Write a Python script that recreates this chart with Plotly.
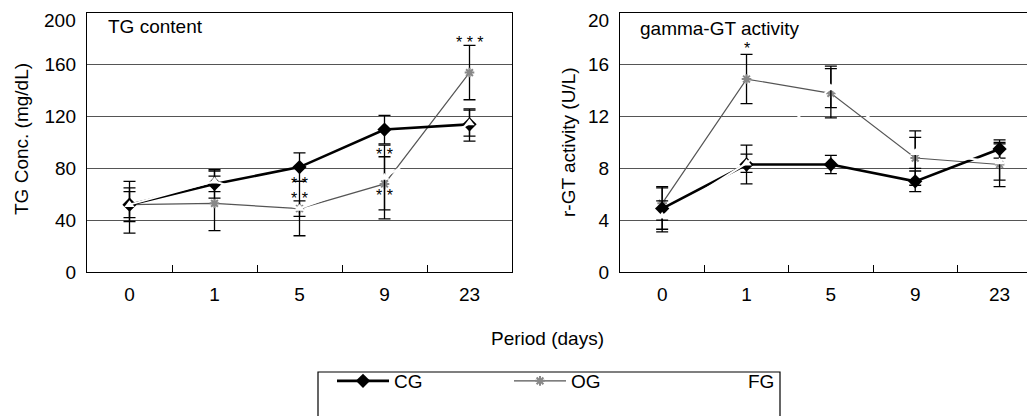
import plotly.graph_objects as go

days = ["0", "1", "5", "9", "23"]

# TG content (mg/dL)
tg_ticks = [0, 40, 80, 120, 160, 200]
tg_cg = [52, 68, 81, 110, 114]
tg_cg_up = [10, 11, 11, 11, 12]
tg_cg_dn = [10, 11, 11, 11, 13]
tg_og = [52, 53, 49, 68, 154]
tg_og_up = [18, 21, 21, 21, 21]
tg_og_dn = [22, 21, 21, 27, 21]
tg_fg = [52, 70, 49, 73, 115]
tg_fg_up = [13, 8, 6, 25, 10]
tg_fg_dn = [13, 8, 6, 25, 10]

# gamma-GT activity (U/L)
gt_ticks = [0, 4, 8, 12, 16, 20]
gt_cg = [4.9, 8.3, 8.3, 7.0, 9.5]
gt_cg_up = [1.6, 1.5, 0.7, 0.8, 0.7]
gt_cg_dn = [1.6, 1.5, 0.7, 0.8, 0.7]
gt_og = [5.3, 14.9, 13.8, 8.8, 8.3]
gt_og_up = [1.3, 1.9, 2.1, 2.1, 1.7]
gt_og_dn = [1.3, 1.9, 1.9, 2.1, 1.7]
gt_fg = [4.3, 8.4, 14.2, 9.2, 8.5]
gt_fg_up = [1.2, 0.7, 1.5, 1.2, 1.4]
gt_fg_dn = [1.2, 0.7, 1.5, 1.2, 1.4]

# significance marks: (day, y, text)
tg_sig = [("5", 70, "* *"), ("5", 58, "* *"), ("9", 92, "* *"), ("9", 61, "* *"), ("23", 179, "* * *")]
gt_sig = [("1", 17.4, "*")]

FONT = "Liberation Sans, Arial, sans-serif"
OFF = 8  # page body margin
W, H = 1035 - OFF, 416 - OFF


def px_x(p):
    return min(1.0, (p - OFF) / W)


def px_y(p):
    return (H - (p - OFF)) / H


def err(up, dn):
    return dict(type="data", array=up, arrayminus=dn, symmetric=False,
                color="black", thickness=1.3, width=6)


fig = go.Figure()

panels = [
    (tg_cg, tg_cg_up, tg_cg_dn, tg_og, tg_og_up, tg_og_dn, tg_fg, tg_fg_up, tg_fg_dn, "x", "y", True),
    (gt_cg, gt_cg_up, gt_cg_dn, gt_og, gt_og_up, gt_og_dn, gt_fg, gt_fg_up, gt_fg_dn, "x2", "y2", False),
]

for (cg, cgu, cgd, og, ogu, ogd, fg, fgu, fgd, xa, ya, leg) in panels:
    fig.add_trace(go.Scatter(
        x=days, y=og, name="OG", mode="lines+markers", xaxis=xa, yaxis=ya,
        line=dict(color="#555555", width=1.2),
        marker=dict(symbol="asterisk-open", size=8, color="#888888",
                    line=dict(color="#888888", width=2)),
        error_y=err(ogu, ogd), showlegend=leg, legendrank=2))
    fig.add_trace(go.Scatter(
        x=days, y=cg, name="CG", mode="lines+markers", xaxis=xa, yaxis=ya,
        line=dict(color="black", width=2.6),
        marker=dict(symbol="diamond", size=11, color="black"),
        error_y=err(cgu, cgd), showlegend=leg, legendrank=1))
    fig.add_trace(go.Scatter(
        x=days, y=fg, name="FG", mode="lines+markers", xaxis=xa, yaxis=ya,
        line=dict(color="white", width=2),
        marker=dict(symbol="triangle-up", size=9, color="white"),
        error_y=err(fgu, fgd), showlegend=leg, legendrank=3))

ax_common = dict(showline=True, mirror=True, linecolor="black", linewidth=1.2,
                 tickfont=dict(family=FONT, size=19, color="black"))

fig.update_layout(
    template="none",
    width=W, height=H,
    margin=dict(l=0, r=0, t=0, b=0),
    paper_bgcolor="white", plot_bgcolor="white",
    font=dict(family=FONT, size=19, color="black"),
    xaxis=dict(domain=[px_x(87), px_x(512)], type="category", categoryarray=days,
               range=[-0.5, 4.5], ticks="inside", tickson="boundaries", ticklen=7,
               tickcolor="black", showgrid=False, zeroline=False, automargin=False,
               ticklabelstandoff=5, anchor="y", **ax_common),
    # top label (200) is placed as an annotation so it is not cut at the page edge
    yaxis=dict(domain=[px_y(272), px_y(13)], range=[0, 200], tickvals=tg_ticks[:-1],
               ticks="", showgrid=True, gridcolor="#555555", gridwidth=1, zeroline=False,
               automargin=False, ticklabelstandoff=6, anchor="x", **ax_common),
    xaxis2=dict(domain=[px_x(620), px_x(1035)], type="category", categoryarray=days,
                range=[-0.5, 4.42], ticks="inside", tickson="boundaries", ticklen=7,
                tickcolor="black", showgrid=False, zeroline=False, automargin=False,
                ticklabelstandoff=5, anchor="y2", **ax_common),
    yaxis2=dict(domain=[px_y(272), px_y(13)], range=[0, 20], tickvals=gt_ticks[:-1],
                ticks="", showgrid=True, gridcolor="#555555", gridwidth=1, zeroline=False,
                automargin=False, ticklabelstandoff=6, anchor="x2", **ax_common),
    legend=dict(orientation="h", x=px_x(332), xanchor="left", y=px_y(381), yanchor="middle",
                font=dict(family=FONT, size=19, color="black"),
                bgcolor="rgba(0,0,0,0)", borderwidth=0,
                entrywidth=110, entrywidthmode="pixels", itemwidth=52,
                traceorder="normal"),
    showlegend=True,
)

# legend frame
fig.add_shape(type="rect", xref="paper", yref="paper",
              x0=px_x(318), x1=px_x(780), y0=-0.2, y1=px_y(372),
              line=dict(color="black", width=1.2), fillcolor="rgba(0,0,0,0)")

ann = []
ann.append(dict(text=str(tg_ticks[-1]), x=px_x(78), y=px_y(20), xref="paper", yref="paper",
                xanchor="right", yanchor="middle", showarrow=False, font=dict(size=19)))
ann.append(dict(text=str(gt_ticks[-1]), x=px_x(611), y=px_y(20), xref="paper", yref="paper",
                xanchor="right", yanchor="middle", showarrow=False, font=dict(size=19)))
ann.append(dict(text="TG content", x=px_x(106), y=px_y(27), xref="paper", yref="paper",
                xanchor="left", yanchor="middle", showarrow=False, font=dict(size=19)))
ann.append(dict(text="gamma-GT activity", x=px_x(638), y=px_y(28), xref="paper", yref="paper",
                xanchor="left", yanchor="middle", showarrow=False, font=dict(size=19)))
ann.append(dict(text="TG Conc. (mg/dL)", x=px_x(21), y=px_y(139), xref="paper", yref="paper",
                xanchor="center", yanchor="middle", textangle=-90, showarrow=False,
                font=dict(size=19)))
ann.append(dict(text="r-GT activity (U/L)", x=px_x(568), y=px_y(142), xref="paper", yref="paper",
                xanchor="center", yanchor="middle", textangle=-90, showarrow=False,
                font=dict(size=19)))
ann.append(dict(text="Period (days)", x=px_x(547), y=px_y(338), xref="paper", yref="paper",
                xanchor="center", yanchor="middle", showarrow=False, font=dict(size=19)))
for d, v, t in tg_sig:
    ann.append(dict(text=t, x=days.index(d), y=v, xref="x", yref="y", showarrow=False,
                    xanchor="center", yanchor="middle", yshift=-2, font=dict(size=16)))
for d, v, t in gt_sig:
    ann.append(dict(text=t, x=days.index(d), y=v, xref="x2", yref="y2", showarrow=False,
                    xanchor="center", yanchor="middle", yshift=-2, font=dict(size=16)))
fig.update_layout(annotations=ann)

fig.write_html("out.html")
